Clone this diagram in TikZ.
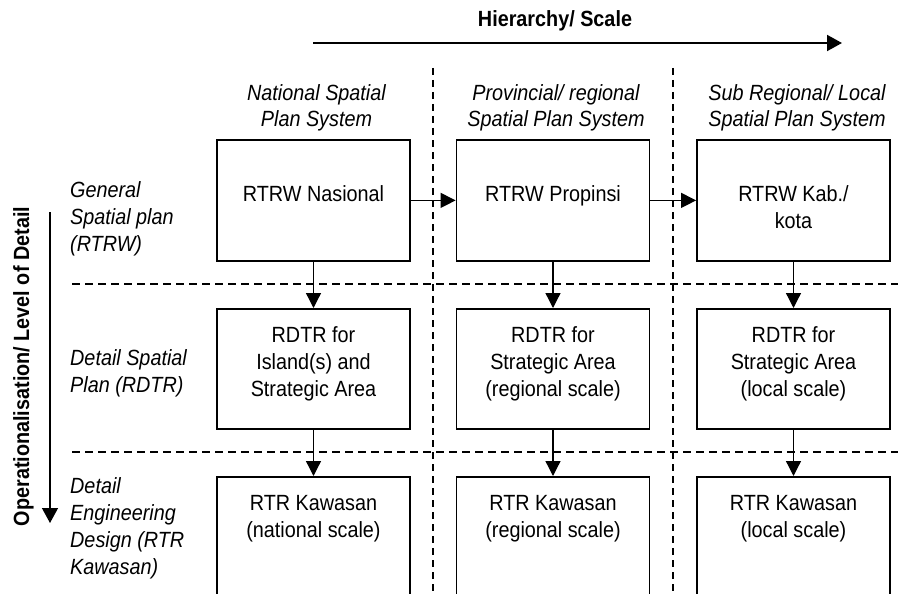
\documentclass[tikz,border=0pt]{standalone}
\usepackage{fontspec}
\setmainfont{Liberation Sans}[FakeStretch=0.9]
\usetikzlibrary{arrows.meta}
\begin{document}
\begin{tikzpicture}[x=1pt,y=-1pt,
  every node/.style={font=\fontsize{22}{27}\selectfont},
  plan/.style={draw,line width=1.8pt,minimum width=193pt,inner xsep=0pt,inner ysep=0pt,align=center,anchor=north},
  hdr/.style={font=\fontsize{22}{27}\selectfont\itshape,align=center,anchor=base,inner sep=0pt},
  rowlbl/.style={font=\fontsize{22}{27}\selectfont\itshape,align=left,anchor=base west,inner sep=0pt},
  flow/.style={line width=1.3pt,-{Triangle[length=15pt,width=15pt]}},
  sep/.style={line width=1.8pt,dash pattern=on 8pt off 5pt},
  vsep/.style={line width=1.3pt,dash pattern=on 7pt off 5pt},
  axis/.style={line width=2pt,-{Triangle[length=15pt,width=16pt]}}
]
\useasboundingbox (0,0) rectangle (898,594);
\clip (0,0) rectangle (898,594);

% separators
\draw[sep] (72,284) -- (898,284);
\draw[sep] (72,452) -- (898,452);
\draw[vsep] (433,68) -- (433,594);
\draw[vsep] (673,68) -- (673,594);

% titles
\node[font=\fontsize{22}{27}\selectfont\bfseries,anchor=base,inner sep=0pt] (htitle) at (555,27) {Hierarchy/ Scale};
\coordinate (hs) at (313,43);
\coordinate (he) at (842,43);
\draw[axis] (hs) -- (he);

\node[font=\fontsize{22}{27}\selectfont\bfseries,anchor=base,rotate=90,inner sep=0pt] (vtitle) at (29,366.5) {Operationalisation/ Level of Detail};
\coordinate (vs) at (50,212);
\coordinate (ve) at (50,523);
\draw[axis,line width=1.3pt] (vs) -- (ve);

% column headers (anchor = baseline of last line)
\node[hdr] (c1) at (316.5,127) {National Spatial\\Plan System};
\node[hdr] (c2) at (556,127) {Provincial/ regional\\Spatial Plan System};
\node[hdr] (c3) at (797,127) {Sub Regional/ Local\\Spatial Plan System};

% row labels (anchor = baseline of last line)
\node[rowlbl] (l1) at (70,251) {General\\Spatial plan\\(RTRW)};
\node[rowlbl] (l2) at (70,392) {Detail Spatial\\Plan (RDTR)};
\node[rowlbl] (l3) at (70,574) {Detail\\Engineering\\Design (RTR\\Kawasan)};

% boxes
\node[plan,text height=62pt,text depth=59pt] (a1) at (313.5,139) {RTRW Nasional};
\node[plan,text height=62pt,text depth=59pt] (a2) at (553,139) {RTRW Propinsi};
\node[plan,text height=89pt,text depth=32pt] (a3) at (793.5,139) {RTRW Kab./\\kota};

\node[plan,text height=88pt,text depth=32pt] (b1) at (313.5,308) {RDTR for\\Island(s) and\\Strategic Area};
\node[plan,text height=88pt,text depth=32pt] (b2) at (553,308) {RDTR for\\Strategic Area\\(regional scale)};
\node[plan,text height=88pt,text depth=32pt] (b3) at (793.5,308) {RDTR for\\Strategic Area\\(local scale)};

\node[plan,text height=61pt,text depth=103pt] (d1) at (313.5,476) {RTR Kawasan\\(national scale)};
\node[plan,text height=61pt,text depth=103pt] (d2) at (553,476) {RTR Kawasan\\(regional scale)};
\node[plan,text height=61pt,text depth=103pt] (d3) at (793.5,476) {RTR Kawasan\\(local scale)};

% connectors
\draw[flow] (a1) -- (a2);
\draw[flow] (a2) -- (a3);
\draw[flow] (a1) -- (b1);
\draw[flow] (a2) -- (b2);
\draw[flow] (a3) -- (b3);
\draw[flow] (b1) -- (d1);
\draw[flow] (b2) -- (d2);
\draw[flow] (b3) -- (d3);
\end{tikzpicture}
\end{document}
